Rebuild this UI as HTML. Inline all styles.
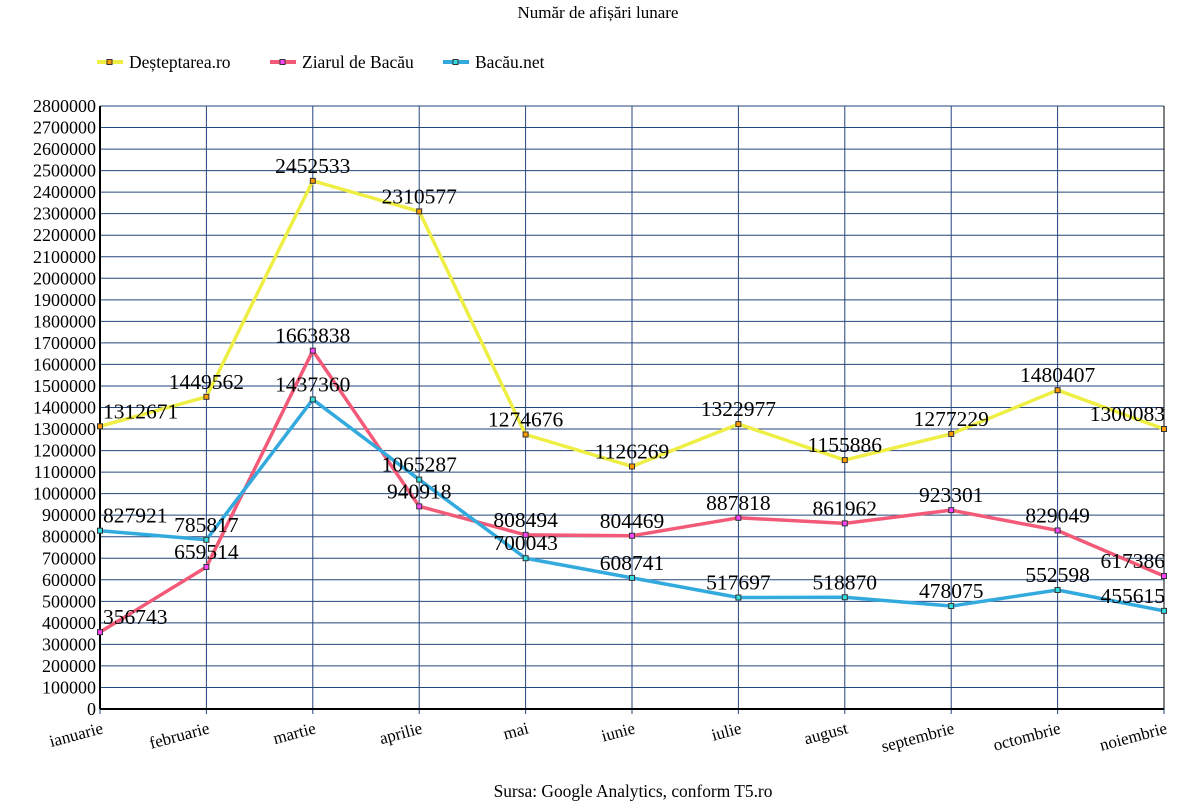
<!DOCTYPE html>
<html><head><meta charset="utf-8"><style>
html,body{margin:0;padding:0;background:#fff;width:1200px;height:808px;overflow:hidden}
svg text{font-family:"Liberation Serif",serif;fill:#000}
</style></head><body>
<svg id="s" width="1200" height="808" xmlns="http://www.w3.org/2000/svg"></svg>
<script>
var s=document.getElementById('s'),h='';
var L=100,R=1164,T=106,B=709;
function Y(v){return B-v/2800000*(B-T);}
function X(i){return L+i*(R-L)/10;}
h+='<text x="598" y="18" text-anchor="middle" font-size="17">Număr de afișări lunare</text>';
h+='<text x="633" y="797" text-anchor="middle" font-size="17.4">Sursa: Google Analytics, conform T5.ro</text>';
var leg=[[97,'#eeee44','#ff9900','Deșteptarea.ro'],[270,'#f25a78','#ff44ff','Ziarul de Bacău'],[443,'#33aadd','#33dddd','Bacău.net']];
leg.forEach(function(l){h+='<line x1="'+l[0]+'" y1="62" x2="'+(l[0]+26)+'" y2="62" stroke="'+l[1]+'" stroke-width="4"/><rect x="'+(l[0]+10)+'" y="59.5" width="5" height="5" fill="'+l[2]+'" stroke="#333" stroke-width="1"/><text x="'+(l[0]+32)+'" y="68" font-size="17.5">'+l[3]+'</text>';});
for(var k=0;k<=28;k++){var y=Y(k*100000);
 h+='<line x1="'+L+'" y1="'+y+'" x2="'+R+'" y2="'+y+'" stroke="#24467e" stroke-width="1"/>';
 h+='<text x="96" y="'+(y+6)+'" text-anchor="end" font-size="18">'+(k*100000)+'</text>';}
for(var i=0;i<=10;i++){h+='<line x1="'+X(i)+'" y1="'+T+'" x2="'+X(i)+'" y2="'+(B+5)+'" stroke="#24467e" stroke-width="1"/>';}
h+='<line x1="'+L+'" y1="'+T+'" x2="'+L+'" y2="'+B+'" stroke="#000" stroke-width="2"/>';
h+='<line x1="'+L+'" y1="'+B+'" x2="'+R+'" y2="'+B+'" stroke="#000" stroke-width="2"/>';
h+='<line x1="'+R+'" y1="'+T+'" x2="'+R+'" y2="'+B+'" stroke="#000" stroke-width="1"/>';
var m=['ianuarie','februarie','martie','aprilie','mai','iunie','iulie','august','septembrie','octombrie','noiembrie'];
m.forEach(function(n,i){h+='<text transform="translate('+(X(i)+4)+','+(B+24)+') rotate(-15)" text-anchor="end" font-size="17">'+n+'</text>';});
var ser=[
[[1312671,1449562,2452533,2310577,1274676,1126269,1322977,1155886,1277229,1480407,1300083],'#eeee44','#ff9900'],
[[356743,659514,1663838,940918,808494,804469,887818,861962,923301,829049,617386],'#f25a78','#ff44ff'],
[[827921,785817,1437360,1065287,700043,608741,517697,518870,478075,552598,455615],'#33aadd','#33dddd']];
ser.forEach(function(se){var p=se[0].map(function(v,i){return X(i)+','+Y(v)}).join(' ');
 h+='<polyline points="'+p+'" fill="none" stroke="'+se[1]+'" stroke-width="3.5" stroke-linejoin="round"/>';});
ser.forEach(function(se){se[0].forEach(function(v,i){h+='<rect x="'+(X(i)-2.5)+'" y="'+(Y(v)-2.5)+'" width="5" height="5" fill="'+se[2]+'" stroke="#333" stroke-width="1"/>';});});
ser.forEach(function(se){se[0].forEach(function(v,i){var a='middle',x=X(i);if(i==0){a='start';x+=3;}if(i==10){a='end';x+=1;}
 h+='<text x="'+x+'" y="'+(Y(v)-8)+'" text-anchor="'+a+'" font-size="21.5">'+v+'</text>';});});
s.innerHTML=h;
</script>
</body></html>
